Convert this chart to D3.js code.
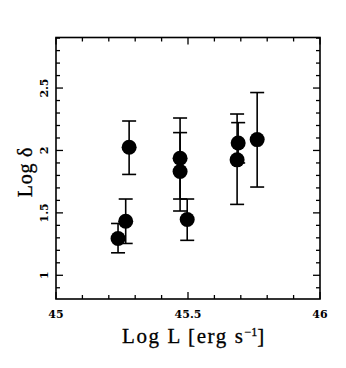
<!DOCTYPE html>
<html><head><meta charset="utf-8">
<script src="https://cdn.jsdelivr.net/npm/d3@7"></script>
<style>body{margin:0;background:#fff;} svg{display:block;}</style>
</head><body>
<script>
const logL   = [45.235, 45.264, 45.277, 45.47, 45.47, 45.497, 45.69, 45.686, 45.762];
const logD   = [1.295, 1.433, 2.026, 1.938, 1.832, 1.447, 2.06, 1.925, 2.087];
const errHi  = [1.415, 1.611, 2.236, 2.26, 2.143, 1.611, 2.223, 2.292, 2.464];
const errLo  = [1.18, 1.255, 1.808, 1.611, 1.515, 1.28, 1.9, 1.568, 1.707];
const xTickLabels = ["45", "45.5", "46"];
const yTickLabels = ["1", "1.5", "2", "2.5"];

const W = 346, H = 368;
const m = {l: 56, r: 26, t: 37.5, b: 69};
const svg = d3.select("body").append("svg").attr("width", W).attr("height", H);
const x = d3.scaleLinear().domain([45, 46]).range([m.l, W - m.r]);
const y = d3.scaleLinear().domain([0.81, 2.905]).range([H - m.b, m.t]);

const xMajor = xTickLabels.map(Number);
const yMajor = yTickLabels.map(Number);
const xMinor = d3.range(45, 46.0001, 0.1).map(v => +v.toFixed(1));
const yMinor = d3.range(0.9, 2.9001, 0.1).map(v => +v.toFixed(1));
const isMajor = (arr, v) => arr.some(a => Math.abs(a - v) < 1e-6);

const g = svg.append("g");
function drawTicks(sel, vals, majors, scale, orient) {
  vals.forEach(v => {
    const len = isMajor(majors, v) ? 7 : 4;
    const p = scale(v);
    let x1, y1, x2, y2;
    if (orient === "bottom") { x1 = x2 = p; y1 = H - m.b; y2 = y1 - len; }
    if (orient === "top") { x1 = x2 = p; y1 = m.t; y2 = y1 + len; }
    if (orient === "left") { y1 = y2 = p; x1 = m.l; x2 = x1 + len; }
    if (orient === "right") { y1 = y2 = p; x1 = W - m.r; x2 = x1 - len; }
    sel.append("line").attr("x1", x1).attr("y1", y1).attr("x2", x2).attr("y2", y2)
      .attr("stroke", "#000").attr("stroke-width", 1.3);
  });
}
drawTicks(g, xMinor, xMajor, x, "bottom");
drawTicks(g, xMinor, xMajor, x, "top");
drawTicks(g, yMinor, yMajor, y, "left");
drawTicks(g, yMinor, yMajor, y, "right");

g.append("rect").attr("x", m.l).attr("y", m.t).attr("width", W - m.r - m.l).attr("height", H - m.b - m.t)
  .attr("fill", "none").attr("stroke", "#000").attr("stroke-width", 1.6);

g.selectAll(".xl").data(xTickLabels).enter().append("text")
  .attr("x", d => x(+d)).attr("y", H - m.b + 19)
  .attr("text-anchor", "middle").attr("font-family", "DejaVu Serif, serif")
  .attr("font-weight", "bold").attr("font-size", 11).text(d => d);
g.selectAll(".yl").data(yTickLabels).enter().append("text")
  .attr("transform", d => `translate(${m.l - 8},${y(+d)}) rotate(-90)`)
  .attr("text-anchor", "middle").attr("font-family", "DejaVu Serif, serif")
  .attr("font-weight", "bold").attr("font-size", 11).text(d => d);

const xt = g.append("text").attr("x", 194).attr("y", 343).attr("text-anchor", "middle")
  .attr("font-family", "Liberation Serif, serif").attr("font-size", 21)
  .attr("letter-spacing", 1.6).attr("stroke", "#000").attr("stroke-width", 0.3);
xt.append("tspan").text("Log L [erg s");
xt.append("tspan").attr("dy", -7).attr("font-size", 12).attr("letter-spacing", 0).text("−1");
xt.append("tspan").attr("dy", 7).text("]");
g.append("text").attr("transform", `translate(32,172) rotate(-90)`).attr("text-anchor", "middle")
  .attr("font-family", "Liberation Serif, serif").attr("font-size", 20)
  .attr("letter-spacing", 0.8).attr("stroke", "#000").attr("stroke-width", 0.3).text("Log δ");

const idx = d3.range(logL.length);
const cap = 7;
const eb = g.append("g").attr("stroke", "#000").attr("stroke-width", 1.6);
idx.forEach(i => {
  const cx = x(logL[i]);
  eb.append("line").attr("x1", cx).attr("x2", cx).attr("y1", y(errLo[i])).attr("y2", y(errHi[i]));
  eb.append("line").attr("x1", cx - cap).attr("x2", cx + cap).attr("y1", y(errLo[i])).attr("y2", y(errLo[i]));
  eb.append("line").attr("x1", cx - cap).attr("x2", cx + cap).attr("y1", y(errHi[i])).attr("y2", y(errHi[i]));
});
g.selectAll("circle").data(idx).enter().append("circle")
  .attr("cx", i => x(logL[i])).attr("cy", i => y(logD[i])).attr("r", 7.5).attr("fill", "#000");
</script>
</body></html>
